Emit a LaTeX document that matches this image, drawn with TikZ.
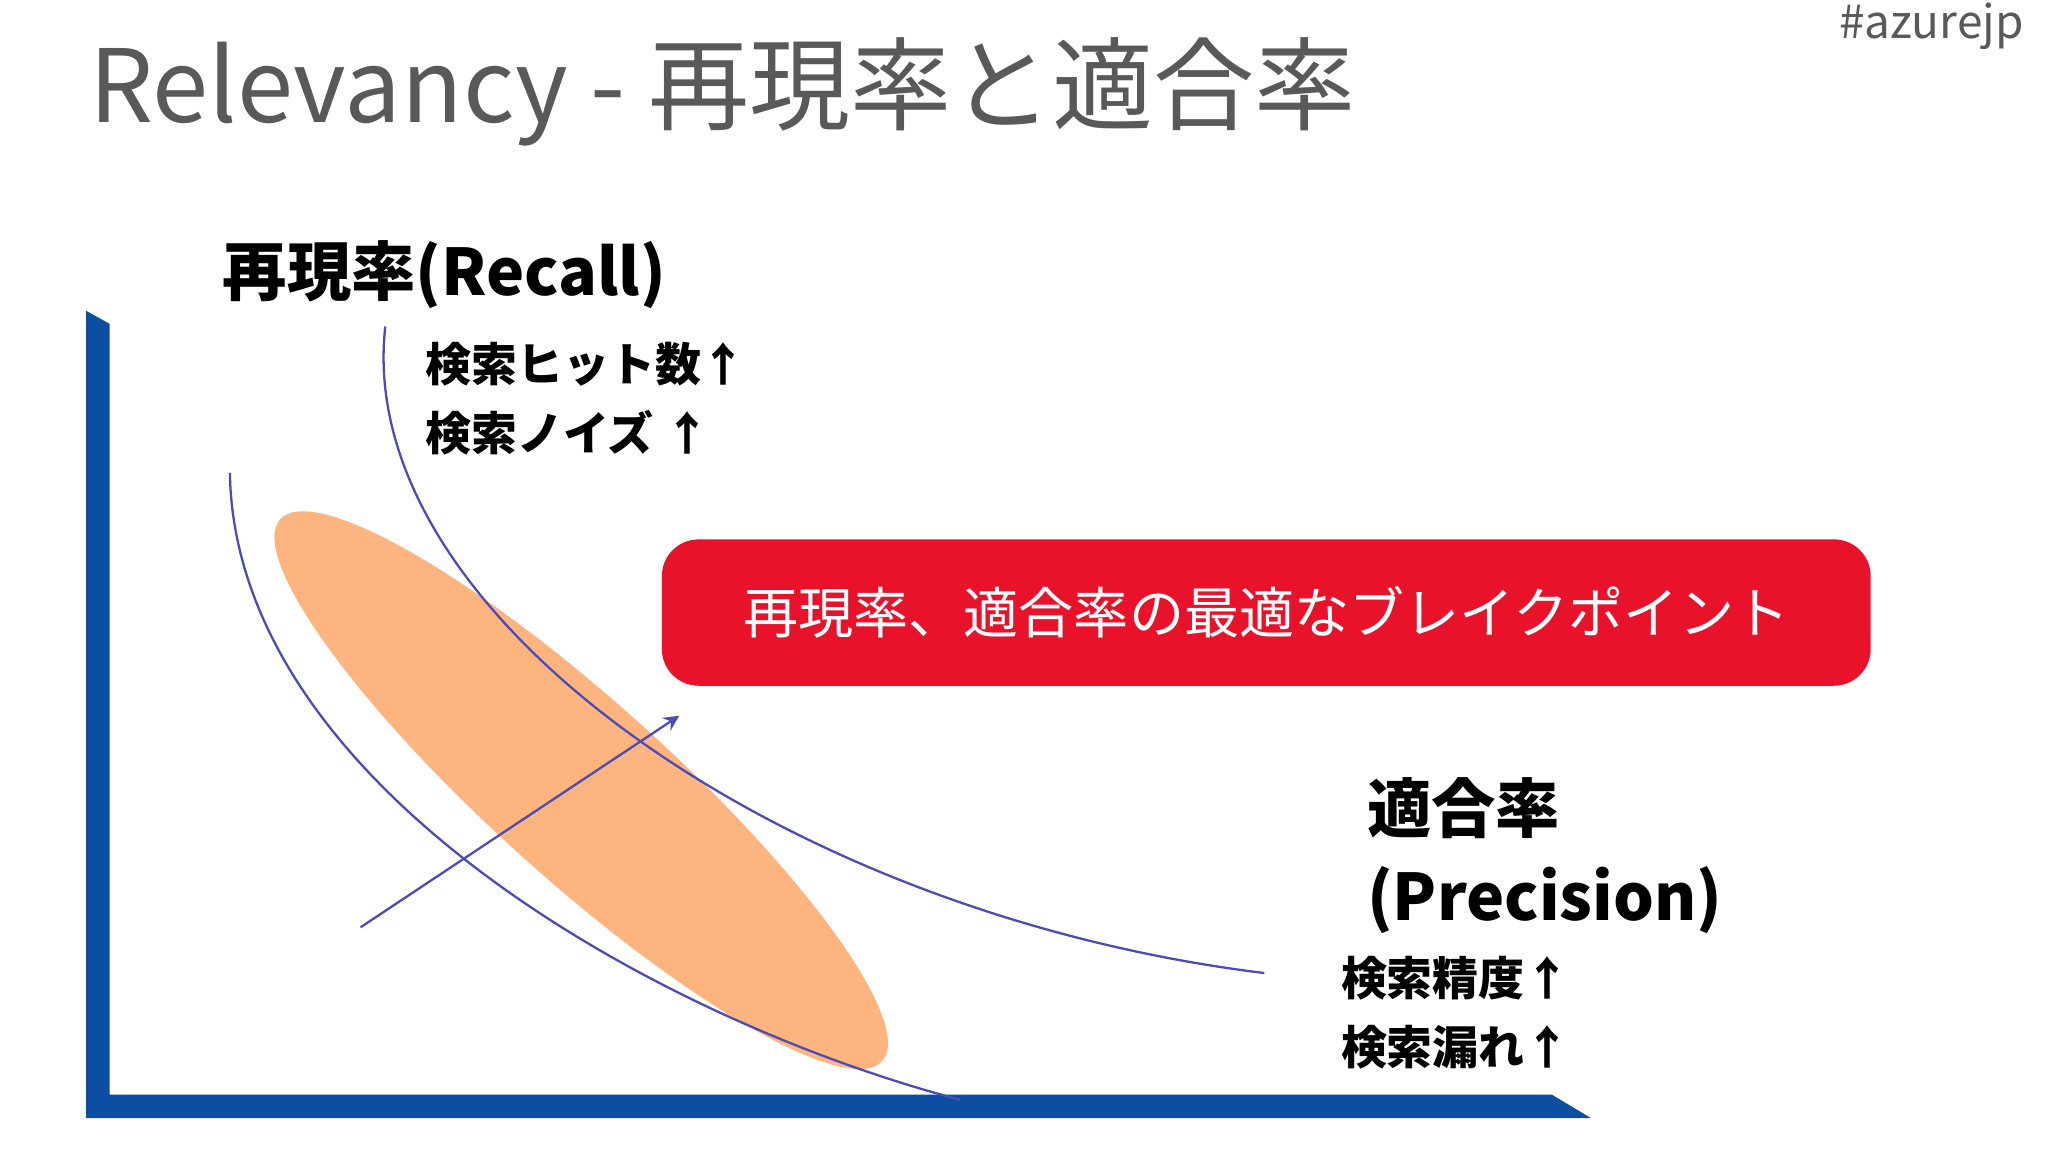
\documentclass[tikz,border=0pt]{standalone}
\usepackage{fontspec}
\setmainfont{Noto Sans CJK JP}
\newfontfamily\cjkb[BoldFont={Noto Sans CJK JP Bold}]{Noto Sans CJK JP}
\begin{document}
\begin{tikzpicture}[x=0.01cm,y=-0.01cm,
  lbl/.style={anchor=west,inner sep=0,font=\bfseries\fontsize{10}{13}\selectfont,align=left},
  curve/.style={draw=blue!60!black!70,line width=0.5pt}]
\useasboundingbox[fill=white] (0,0) rectangle (1568,882);
\node[anchor=west,inner sep=0,text=black!65,font=\fontsize{22}{26}\selectfont] (title) at (68,70) {Relevancy - 再現率と適合率};
\node[anchor=east,inner sep=0,text=black!65,font=\fontsize{10}{12}\selectfont] (tag) at (1550,20) {\#azurejp};
\fill[fill={rgb,255:red,11;green,78;blue,162}] (66,238) -- (84,248) -- (84,838) -- (1188,838) -- (1218,856) -- (66,856) -- cycle;
\fill[fill={rgb,255:red,253;green,180;blue,126}] (445,605) ellipse[x radius=310, y radius=68, rotate=-42];
\coordinate (c1a) at (295,250); \coordinate (c1b) at (968,745);
\coordinate (c2a) at (176,362); \coordinate (c2b) at (735,842);
\draw[curve] (c1a) .. controls (270,470) and (600,700) .. (c1b);
\draw[curve] (c2a) .. controls (180,600) and (500,780) .. (c2b);
\coordinate (ar1) at (276,710); \coordinate (ar2) at (520,548);
\draw[curve,-stealth] (ar1) -- (ar2);
\node[lbl,font=\bfseries\fontsize{14}{17}\selectfont] (recall) at (170,210) {再現率(Recall)};
\node[lbl] (rnote) at (325,305) {検索ヒット数↑\\[2pt]検索ノイズ ↑};
\node[lbl,font=\bfseries\fontsize{14}{19}\selectfont] (prec) at (1046,655) {適合率\\(Precision)};
\node[lbl] (pnote) at (1026,775) {検索精度↑\\[2pt]検索漏れ↑};
\node[fill={rgb,255:red,232;green,19;blue,42},rounded corners=8pt,minimum width=9.25cm,minimum height=1.12cm,text=white,font=\fontsize{12}{14}\selectfont] (box) at (969.5,469) {再現率、適合率の最適なブレイクポイント};
\end{tikzpicture}
\end{document}
